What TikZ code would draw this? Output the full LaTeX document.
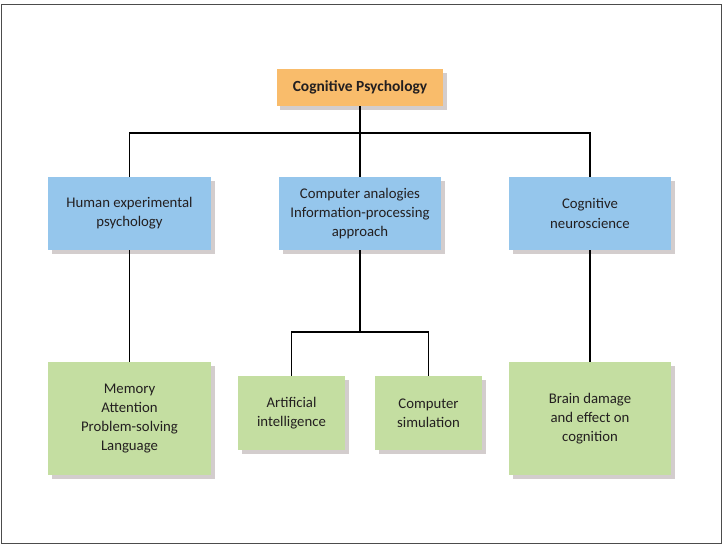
\documentclass[tikz,border=0pt]{standalone}
\usepackage{fontspec}
\setmainfont{Carlito}
\usetikzlibrary{shadows}
\definecolor{orangebox}{HTML}{F9BC6B}
\definecolor{bluebox}{HTML}{95C6EC}
\definecolor{greenbox}{HTML}{C4DEA1}
\definecolor{txt}{HTML}{231F20}
\definecolor{shadowc}{HTML}{6E5A5A}
\tikzset{
  px/.style={x=0.02cm,y=-0.02cm},
  box/.style={draw=none, inner sep=0pt, align=center, text=txt,
    font=\fontsize{8.4}{10.9}\selectfont,
    drop shadow={shadow xshift=2.2pt, shadow yshift=-2.2pt, opacity=0.3, fill=shadowc}},
  topbox/.style={box, fill=orangebox, minimum width=3.34cm, minimum height=0.74cm, font=\fontsize{8.8}{10.9}\selectfont\bfseries},
  bluestyle/.style={box, fill=bluebox, minimum width=3.25cm, minimum height=1.46cm},
  greenbig/.style={box, fill=greenbox, minimum width=3.25cm, minimum height=2.26cm},
  greensmall/.style={box, fill=greenbox, minimum width=2.14cm, minimum height=1.48cm},
  conn/.style={draw=black, line width=0.7pt}
}
\begin{document}
\begin{tikzpicture}[px]
\useasboundingbox (0,0) rectangle (723,546);
\draw[draw=black!70, line width=0.9pt] (1.5,4.5) rectangle (721.5,543.5);
\node[topbox] (top) at (360,87.5) {Cognitive Psychology};
\node[bluestyle] (h1) at (129.5,213.5) {Human experimental\\psychology};
\node[bluestyle] (h2) at (360,213.5) {Computer analogies\\Information-processing\\approach};
\node[bluestyle] (h3) at (590,213.5) {Cognitive\\neuroscience};
\node[greenbig] (g1) at (129.5,418.5) {Memory\\Attention\\Problem-solving\\Language};
\node[greensmall] (g2) at (291.5,413) {Artificial\\intelligence};
\node[greensmall] (g3) at (428.5,413) {Computer\\simulation};
\node[greenbig] (g4) at (590,418.5) {Brain damage\\and effect on\\cognition};
\coordinate (j1) at (360,133);
\coordinate (jl) at (129.5,133);
\coordinate (jr) at (590,133);
\coordinate (j2) at (360,332);
\coordinate (kl) at (291.5,332);
\coordinate (kr) at (428.5,332);
\draw[conn] (top.south) -- (j1);
\draw[conn] (h1.north) -- (jl) -- (jr) -- (h3.north);
\draw[conn] (j1) -- (h2.north);
\draw[conn] (h1.south) -- (g1.north);
\draw[conn] (h3.south) -- (g4.north);
\draw[conn] (h2.south) -- (j2);
\draw[conn] (g2.north) -- (kl) -- (kr) -- (g3.north);
\end{tikzpicture}
\end{document}
